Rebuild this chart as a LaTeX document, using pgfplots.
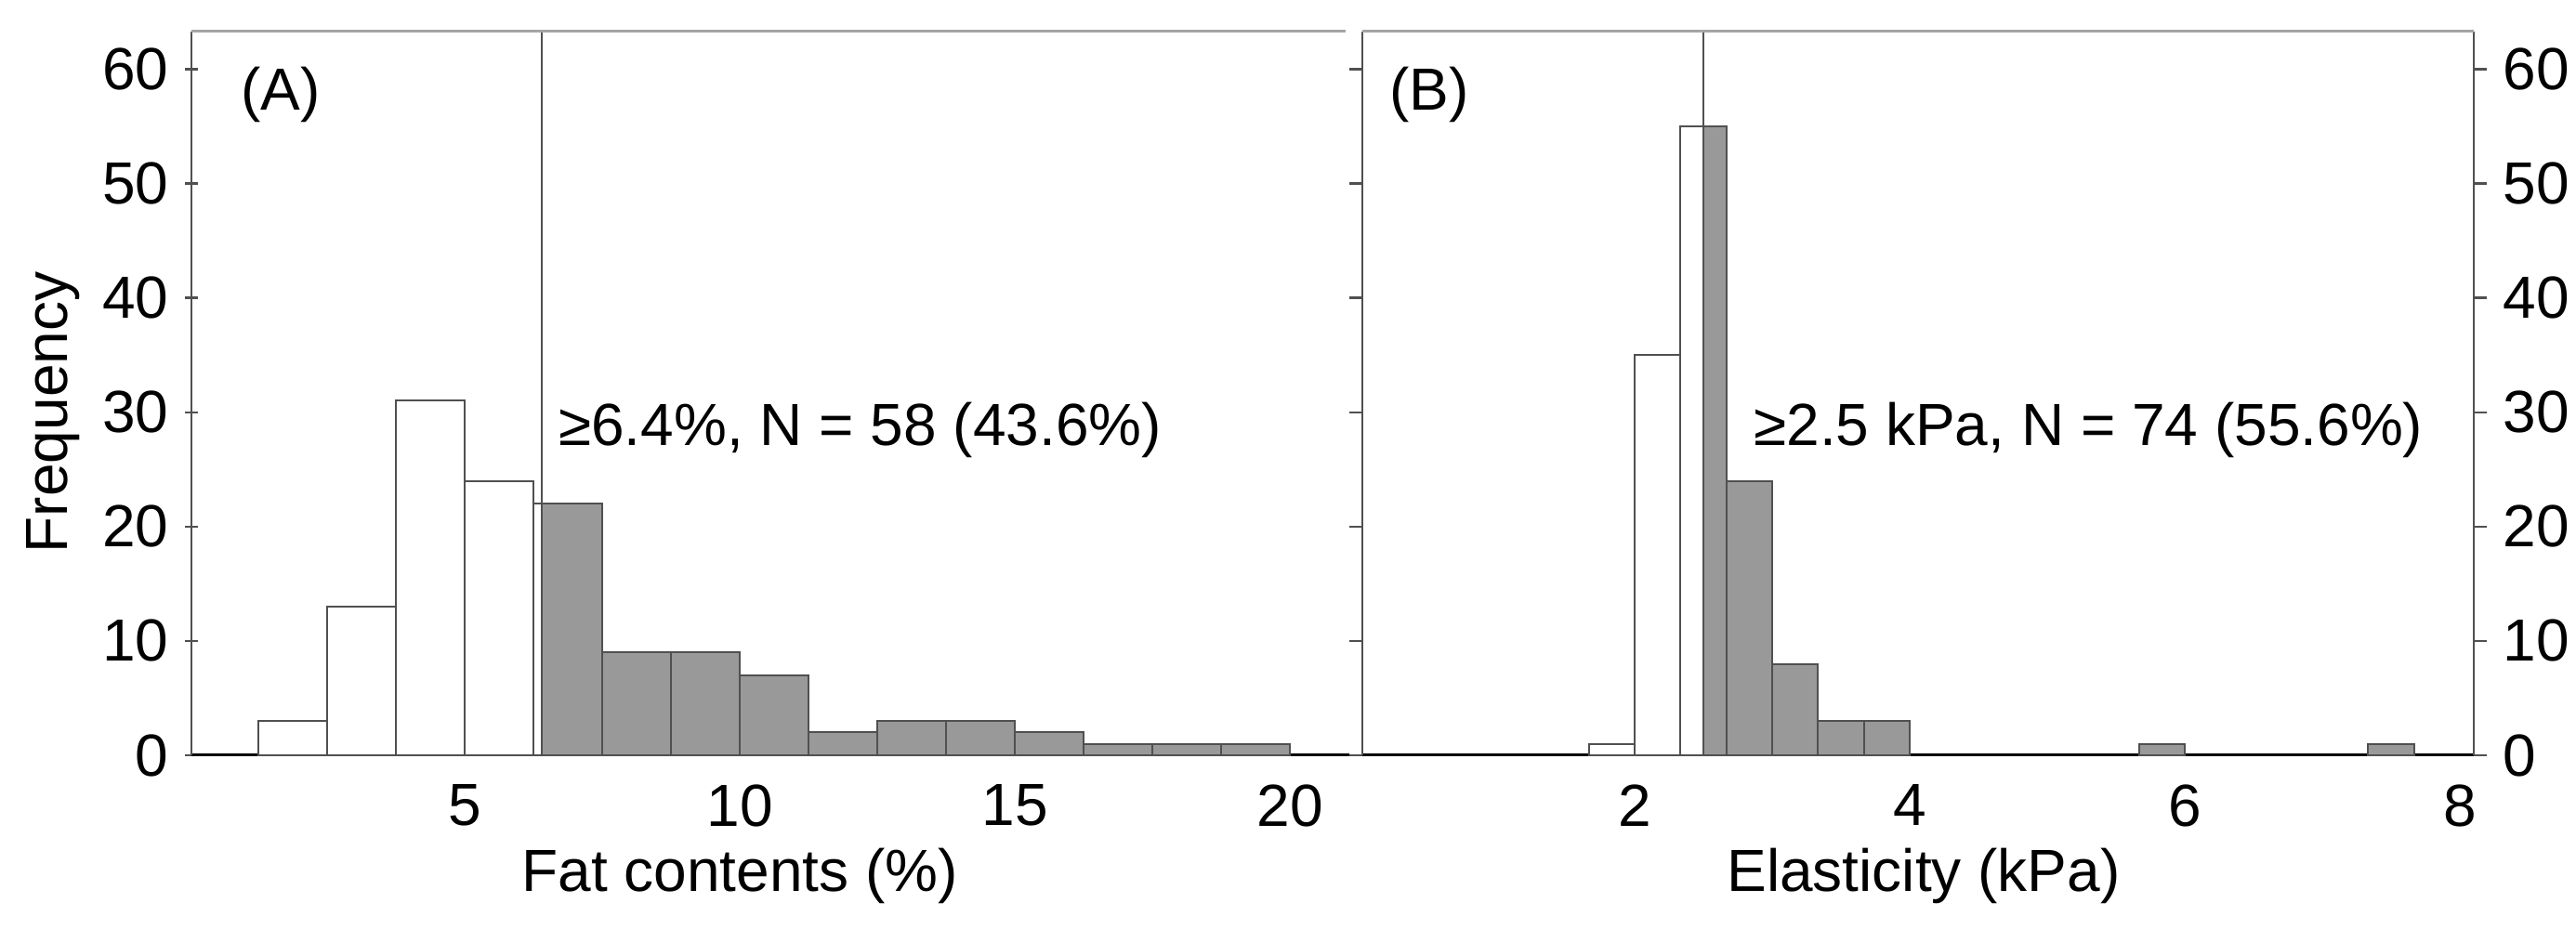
\documentclass[border=0pt]{standalone}
\usepackage{fontspec}
\setmainfont{Liberation Sans}
\usepackage{pgfplots}
\pgfplotsset{compat=1.18}

\definecolor{barfill}{RGB}{153,153,153}
\definecolor{edge}{RGB}{80,80,80}
\definecolor{topline}{RGB}{165,165,165}

\newcommand{\lbl}{\fontsize{12.8}{14}\selectfont}

\pgfplotsset{
  histo/.style={
    scale only axis,
    anchor=south west,
    height=155.8pt,
    ymin=0, ymax=63.3,
    ytick={0,10,...,60},
    axis x line=bottom,
    tick align=outside,
    major tick length=2.8pt,
    ytick style={edge, line width=0.5pt},
    xtick style={draw=none},
    ticklabel style={font=\lbl},
    /pgf/number format/assume math mode=true,
    clip=false,
    every axis plot/.append style={ybar interval, draw=edge, line width=0.4pt},
  },
  lines/.style={
    axis line style={-},
    x axis line style={black, line width=0.6pt, -},
    y axis line style={edge, line width=0.4pt, -},
    every outer y axis line/.append style={-},
    every outer x axis line/.append style={-},
  },
}

\begin{document}
\begin{tikzpicture}[font=\lbl]
\path[use as bounding box] (0,0) rectangle (554.4pt,200pt);

% (A) fat contents
\begin{axis}[histo,
  at={(41.2pt,37.4pt)}, width=249.2pt,
  xmin=0.03, xmax=21.08,
  axis y line=left,
  lines,
  xtick={5,10,15,20},
]
  \addplot[fill=white] coordinates {
    (1.25,3) (2.5,13) (3.75,31) (5,24) (6.25,22) (6.4,22)
  };
  \addplot[fill=barfill] coordinates {
    (6.4,22) (7.5,9) (8.75,9) (10,7) (11.25,2) (12.5,3) (13.75,3)
    (15,2) (16.25,1) (17.5,1) (18.75,1) (20,1)
  };
  \draw[edge, line width=0.4pt] (axis cs:6.4,0) -- (axis cs:6.4,63.3);
  \draw[topline, line width=0.6pt] (rel axis cs:0,1) -- (rel axis cs:0.997,1);
  \node[anchor=west, inner sep=0] at (axis cs:0.91,57.8) {(A)};
  \node[anchor=base west, inner sep=0] at (axis cs:6.69,27.1) {≥6.4\%, N = 58 (43.6\%)};
  \node[inner sep=0] at (axis cs:10,0) [yshift=-26pt] {Fat contents (\%)};
\end{axis}

% (B) elasticity
\begin{axis}[histo,
  at={(293.2pt,37.4pt)}, width=239.2pt,
  xmin=0.02, xmax=8.1,
  axis y line=box,
  lines,
  yticklabel pos=right,
  xtick={2,4,6,8},
]
  \addplot[fill=white] coordinates {
    (1.667,1) (2,35) (2.333,55) (2.5,55)
  };
  \addplot[fill=barfill] coordinates {
    (2.5,55) (2.667,24) (3,8) (3.333,3) (3.667,3) (4,3)
  };
  \addplot[fill=barfill] coordinates {(5.667,1) (6,1)};
  \addplot[fill=barfill] coordinates {(7.333,1) (7.667,1)};
  \draw[edge, line width=0.4pt] (axis cs:2.5,0) -- (axis cs:2.5,63.3);
  \draw[topline, line width=0.6pt] (rel axis cs:0,1) -- (rel axis cs:1,1);
  \node[anchor=west, inner sep=0] at (axis cs:0.21,57.8) {(B)};
  \node[anchor=base west, inner sep=0] at (axis cs:2.86,27.1) {≥2.5 kPa, N = 74 (55.6\%)};
  \node[inner sep=0] at (axis cs:4.1,0) [yshift=-26pt] {Elasticity (kPa)};
\end{axis}

\node[rotate=90, inner sep=0] at (11.4pt,111.2pt) {Frequency};
\end{tikzpicture}
\end{document}
